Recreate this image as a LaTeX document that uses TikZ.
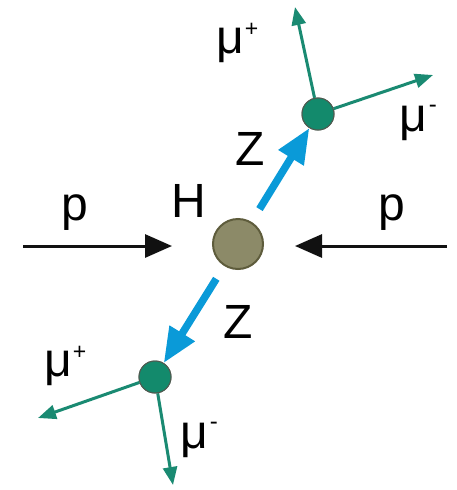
\documentclass[tikz,border=0pt]{standalone}
\usepackage{fontspec}
\setmainfont{Liberation Sans}
\usetikzlibrary{arrows.meta}
\definecolor{pblack}{HTML}{111111}
\definecolor{zblue}{HTML}{0A9AD8}
\definecolor{mugreen}{HTML}{1A8A72}
\definecolor{vfill}{HTML}{138A6C}
\definecolor{vdraw}{HTML}{4F5A50}
\definecolor{hfill}{HTML}{8C8A68}
\definecolor{hdraw}{HTML}{5E5C3C}
\newcommand{\supp}[1]{\kern1pt\raisebox{17pt}{\fontsize{23}{23}\selectfont #1}}
\newcommand{\supm}[1]{\kern2pt\raisebox{19pt}{\fontsize{24}{24}\selectfont #1}}
\tikzset{
  lbl/.style={inner sep=0pt, anchor=base, font=\fontsize{48}{48}\selectfont},
  higgs/.style={circle, minimum size=50pt, inner sep=0pt, fill=hfill, draw=hdraw, line width=2pt},
  vertex/.style={circle, minimum size=32pt, inner sep=0pt, fill=vfill, draw=vdraw, line width=1pt},
  parrow/.style={pblack, line width=3pt, -{Triangle[length=27pt,width=23pt]}},
  zarrow/.style={zblue, line width=7.5pt, shorten <=15pt, -{Triangle[length=35pt,width=28pt]}},
  muarrow/.style={mugreen, line width=3pt, -{Triangle[length=18pt,width=14pt]}},
}
\begin{document}
\begin{tikzpicture}[x=1pt,y=-1pt]
\useasboundingbox (0,0) rectangle (457,490);
\fill[white] (0,0) rectangle (457,490);
% nodes
\node[higgs] (H) at (238,244) {};
\node[vertex] (V1) at (318,114) {};
\node[vertex] (V2) at (155,377) {};
\coordinate (pLs) at (23,246);
\coordinate (pLe) at (172,246);
\coordinate (pRs) at (447,246);
\coordinate (pRe) at (295,246);
\coordinate (m1p) at (295,7);
\coordinate (m1m) at (433,75);
\coordinate (m2p) at (38,418);
\coordinate (m2m) at (173,485);
% connectors
\draw[parrow] (pLs) -- (pLe);
\draw[parrow] (pRs) -- (pRe);
\draw[zarrow] (H) -- (V1);
\draw[zarrow] (H) -- (V2);
\draw[muarrow] (V1) -- (m1p);
\draw[muarrow] (V1) -- (m1m);
\draw[muarrow] (V2) -- (m2p);
\draw[muarrow] (V2) -- (m2m);
\node[vertex] at (V1) {};
\node[vertex] at (V2) {};
% labels
\node[lbl] (lpL) at (75,220) {p};
\node[lbl] (lH) at (189,217) {H};
\node[lbl] (lpR) at (392,220) {p};
\node[lbl] (lZ1) at (250,165) {Z};
\node[lbl] (lZ2) at (238,338) {Z};
\node[lbl, anchor=base west] (lm1p) at (216,53) {μ\supp{+}};
\node[lbl, anchor=base west] (lm1m) at (399,131) {μ\supm{-}};
\node[lbl, anchor=base west] (lm2p) at (44,376) {μ\supp{+}};
\node[lbl, anchor=base west] (lm2m) at (180,448) {μ\supm{-}};
\end{tikzpicture}
\end{document}
